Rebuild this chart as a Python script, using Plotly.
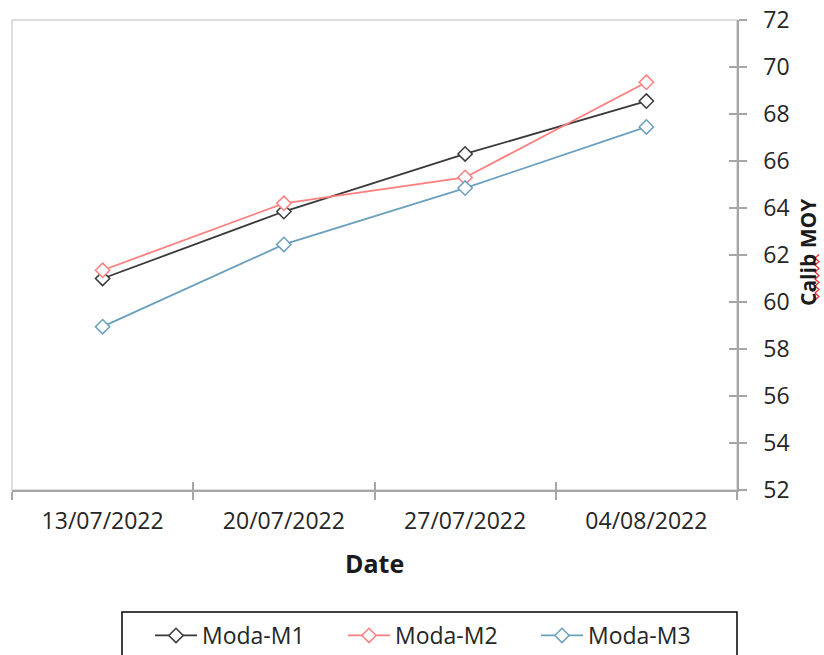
import plotly.graph_objects as go

dates = ["13/07/2022", "20/07/2022", "27/07/2022", "04/08/2022"]
moda_m1 = [61.0, 63.85, 66.3, 68.55]
moda_m2 = [61.35, 64.2, 65.3, 69.35]
moda_m3 = [58.95, 62.45, 64.85, 67.45]
y_ticks = list(range(52, 73, 2))

series = [
    ("Moda-M1", moda_m1, "#3a3a3a"),
    ("Moda-M2", moda_m2, "#ff7f7f"),
    ("Moda-M3", moda_m3, "#6a9fbe"),
]

FONT = "Open Sans"
W, H = 824, 655
# plot area in reference pixels: x 12..737, y 20..490
PX0, PX1, PY0, PY1 = 12, 737, 20, 490
pw, ph = PX1 - PX0, PY1 - PY0
L, T = PX0, PY0
R, B = W - PX1, H - PY1


def px(x):
    return (x - PX0) / pw


def py(y):
    return (PY1 - y) / ph


fig = go.Figure()
for name, vals, col in series:
    fig.add_trace(go.Scatter(
        x=dates, y=vals, name=name, mode="lines+markers",
        line=dict(color=col, width=1.8),
        marker=dict(symbol="diamond", size=11, color="white",
                    line=dict(color=col, width=1.5)),
    ))

axcol = "#a6a6a6"
fig.update_layout(
    width=W, height=H,
    margin=dict(l=L, r=R, t=T, b=B, pad=0, autoexpand=False),
    paper_bgcolor="white", plot_bgcolor="white",
    font=dict(family=FONT, color="#262626"),
    showlegend=True,
    xaxis=dict(
        type="category", categoryarray=dates, range=[-0.5, 3.5],
        tickson="boundaries", ticks="outside", ticklen=8, tickwidth=1.5,
        tickcolor=axcol, showline=True, linecolor=axcol, linewidth=1.5,
        showgrid=False, zeroline=False, tickfont=dict(size=23, color="#262626"),
        ticklabelstandoff=10, ticklabeloverflow="allow",
    ),
    xaxis2=dict(
        overlaying="x", range=[-0.5, 3.5], tickvals=[-0.5, 0.5, 1.5, 2.5, 3.5],
        ticks="inside", ticklen=8, tickwidth=1.5, tickcolor=axcol,
        showticklabels=False, showgrid=False, zeroline=False, showline=False,
        side="bottom",
    ),
    yaxis=dict(
        side="right", range=[52, 72], tickvals=y_ticks, ticks="outside",
        ticklen=8, tickwidth=1.5, tickcolor=axcol, showline=True,
        linecolor=axcol, linewidth=1.5, showgrid=False, zeroline=False,
        tickfont=dict(size=23, color="#262626"), ticklabelstandoff=12,
        ticklabeloverflow="allow",
    ),
    yaxis2=dict(
        overlaying="y", side="right", range=[52, 72], tickvals=y_ticks,
        ticks="inside", ticklen=8, tickwidth=1.5, tickcolor=axcol,
        showticklabels=False, showgrid=False, zeroline=False, showline=False,
    ),
    legend=dict(
        orientation="h", x=px(150), xanchor="left",
        y=py(614), yanchor="top",
        borderwidth=0, bgcolor="rgba(0,0,0,0)",
        font=dict(size=23, color="#262626"),
        entrywidth=136, itemwidth=42,
    ),
)

# dummy trace to activate overlay axes
fig.add_trace(go.Scatter(x=[None], y=[None], xaxis="x2", yaxis="y2",
                         showlegend=False, hoverinfo="skip"))

# plot-area border (top and left)
fig.add_shape(type="rect", xref="paper", yref="paper", x0=0, x1=1, y0=0, y1=1,
              line=dict(color="#d4d4d4", width=1.5), layer="below")

# legend frame (cut by the bottom edge as in the reference)
fig.add_shape(type="rect", xref="paper", yref="paper",
              x0=px(122), x1=px(737), y0=py(612), y1=py(680),
              line=dict(color="#000000", width=1.5), layer="below")

# axis titles
fig.add_annotation(text="<b>Date</b>", xref="paper", yref="paper",
                   x=px(374), y=py(563), xanchor="center", yanchor="middle",
                   showarrow=False, font=dict(size=25, color="#1a1a1a"))
fig.add_annotation(text="<b>Calib MOY</b>", xref="paper", yref="paper",
                   x=px(808), y=py(252), textangle=-90,
                   xanchor="center", yanchor="middle",
                   showarrow=False, font=dict(size=21, color="#1a1a1a"))

# red spell-check squiggle under "Calib"
pts = []
ypix = 300.0
k = 0
while ypix >= 254:
    xpix = 817 + (2 if k % 2 else -2)
    pts.append((px(xpix), py(ypix)))
    ypix -= 3.5
    k += 1
path = "M " + " L ".join(f"{a:.5f},{b:.5f}" for a, b in pts)
fig.add_shape(type="path", xref="paper", yref="paper", path=path,
              line=dict(color="#ff2020", width=1.2))

fig.write_html(
    "out.html",
    config={"displayModeBar": False},
    post_script="document.body.style.margin='0';document.body.style.overflow='hidden';",
)
